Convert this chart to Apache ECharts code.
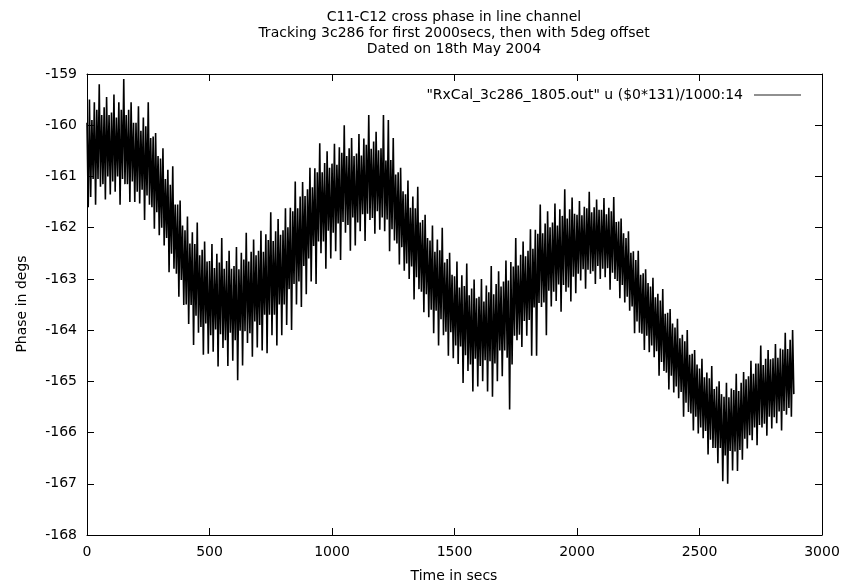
<!DOCTYPE html>
<html><head><meta charset="utf-8">
<script src="https://cdn.jsdelivr.net/npm/echarts@6/dist/echarts.min.js"></script>
<style>html,body{margin:0;padding:0;background:#fff}#c{width:846px;height:586px}</style>
</head><body><div id="c"></div>
<script>
const titleLines = ['C11-C12 cross phase in line channel', 'Tracking 3c286 for first 2000secs, then with 5deg offset', 'Dated on 18th May 2004'];
const xName = 'Time in secs';
const yName = 'Phase in degs';
const seriesName = '"RxCal_3c286_1805.out" u ($0*131)/1000:14';
const xMin = 0, xMax = 3000, xStep = 500;
const yMin = -168, yMax = -159, yStep = 1;
const sampleSpacing = 10; // seconds between upper-envelope samples
// upper swing values at t = 0,10,20,... s ; lower swing values at t = 5,15,25,... s
const upper = [
-159.95,-159.5,-159.9,-159.55,-159.7,-159.2,-159.8,-159.65,-159.45,-159.8,
-159.75,-159.4,-159.85,-159.55,-159.7,-159.1,-159.8,-159.7,-159.55,-159.95,
-159.95,-159.63,-160.11,-159.85,-160.02,-159.55,-160.25,-160.22,-160.15,-160.6,
-160.65,-160.45,-161.05,-160.87,-161.16,-160.8,-161.55,-161.55,-161.47,-161.96,
-162.05,-161.78,-162.31,-162.09,-162.32,-161.9,-162.54,-162.43,-162.27,-162.66,
-162.65,-162.32,-162.79,-162.51,-162.68,-162.2,-162.8,-162.65,-162.45,-162.8,
-162.75,-162.38,-162.81,-162.49,-162.62,-162.1,-162.66,-162.47,-162.23,-162.54,
-162.45,-162.06,-162.47,-162.13,-162.24,-161.7,-162.26,-162.07,-161.83,-162.14,
-162.05,-161.62,-161.99,-161.61,-161.68,-161.1,-161.62,-161.39,-161.11,-161.38,
-161.25,-160.83,-161.21,-160.84,-160.92,-160.35,-160.92,-160.74,-160.51,-160.83,
-160.75,-160.36,-160.77,-160.43,-160.54,-160.0,-160.6,-160.45,-160.25,-160.6,
-160.55,-160.17,-160.59,-160.26,-160.38,-159.8,-160.46,-160.32,-160.13,-160.49,
-160.45,-159.8,-160.69,-159.9,-160.68,-160.25,-160.96,-160.92,-160.83,-161.29,
-161.35,-161.08,-161.61,-161.39,-161.62,-161.2,-161.9,-161.85,-161.75,-162.2,
-162.25,-161.96,-162.47,-162.23,-162.44,-162.0,-162.68,-162.61,-162.49,-162.92,
-162.95,-162.66,-163.17,-162.93,-163.14,-162.7,-163.32,-163.19,-163.01,-163.38,
-163.35,-163.0,-163.44,-163.13,-163.26,-162.75,-163.3,-163.1,-162.85,-163.15,
-163.05,-162.64,-163.03,-162.67,-162.76,-162.2,-162.74,-162.53,-162.27,-162.56,
-162.45,-162.03,-162.41,-162.04,-162.12,-161.55,-162.11,-161.92,-161.68,-161.99,
-161.9,-161.53,-161.96,-161.64,-161.77,-161.25,-161.82,-161.64,-161.41,-161.73,
-161.75,-161.48,-161.76,-161.59,-161.62,-161.3,-161.7,-161.6,-161.45,-161.65,
-161.65,-161.42,-161.74,-161.61,-161.68,-161.4,-161.89,-161.88,-161.82,-162.11,
-162.2,-162.07,-162.49,-162.46,-162.63,-162.45,-162.92,-162.89,-162.81,-163.08,
-163.15,-162.98,-163.36,-163.29,-163.42,-163.2,-163.68,-163.66,-163.59,-163.87,
-163.95,-163.78,-164.16,-164.09,-164.22,-164.0,-164.48,-164.46,-164.39,-164.67,
-164.75,-164.56,-164.92,-164.83,-164.94,-164.7,-165.15,-165.1,-165.0,-165.25,
-165.3,-165.03,-165.31,-165.14,-165.17,-164.85,-165.19,-165.03,-164.82,-164.96,
-164.9,-164.6,-164.85,-164.65,-164.65,-164.3,-164.68,-164.56,-164.39,-164.57,
-164.55,-164.27,-164.54,-164.36,-164.38,-164.05,-164.37,-164.19,-164.0
];
const lower = [
-161.6,-161.4,-161.05,-161.55,-161.05,-161.2,-161.15,-161.45,-161.0,-161.35,
-161.1,-161.3,-161.0,-161.55,-161.05,-161.15,-161.15,-161.5,-161.1,-161.5,
-161.3,-161.53,-161.26,-161.85,-161.37,-161.55,-161.6,-162.02,-161.7,-162.15,
-162.0,-162.35,-162.2,-162.87,-162.51,-162.8,-162.9,-163.35,-163.02,-163.51,
-163.5,-163.88,-163.51,-164.29,-163.72,-164.05,-163.94,-164.48,-163.87,-164.46,
-164.1,-164.42,-163.99,-164.71,-164.08,-164.35,-164.2,-164.7,-164.05,-164.6,
-164.2,-164.98,-164.01,-164.69,-164.02,-164.25,-164.06,-164.52,-163.83,-164.34,
-163.9,-164.4,-163.7,-164.45,-163.7,-164.1,-163.7,-164.3,-163.5,-164.1,
-163.5,-163.9,-163.2,-164.0,-163.1,-163.5,-163.05,-163.55,-162.75,-163.3,
-162.6,-163.05,-162.36,-163.1,-162.27,-162.5,-162.27,-162.8,-162.06,-162.6,
-162.1,-162.46,-161.92,-162.63,-161.89,-162.1,-161.95,-162.45,-161.8,-162.35,
-161.9,-162.07,-161.74,-162.26,-161.73,-161.85,-161.81,-162.12,-161.68,-162.04,
-161.8,-162.07,-161.84,-162.46,-162.03,-162.25,-162.31,-162.72,-162.38,-162.84,
-162.7,-163.0,-162.76,-163.4,-162.97,-163.2,-163.25,-163.65,-163.3,-163.75,
-163.6,-164.06,-163.62,-164.3,-163.79,-164.1,-164.03,-164.5,-164.04,-164.55,
-164.3,-164.66,-164.32,-165.03,-164.49,-164.8,-164.67,-165.2,-164.56,-165.1,
-164.7,-165.0,-164.59,-165.2,-164.61,-165.3,-164.65,-165.0,-164.4,-164.9,
-164.4,-164.54,-165.55,-164.67,-164.11,-164.2,-164.09,-164.33,-163.82,-164.11,
-163.8,-164.5,-163.56,-164.5,-163.47,-163.55,-163.46,-164.1,-163.23,-163.54,
-163.25,-163.43,-163.11,-163.64,-163.12,-163.25,-163.17,-163.44,-162.96,-163.28,
-162.9,-163.03,-162.81,-163.19,-162.82,-162.9,-162.85,-163.1,-162.75,-163.0,
-162.8,-162.97,-162.79,-163.21,-162.88,-163.0,-163.04,-163.38,-163.12,-163.46,
-163.35,-163.62,-163.54,-164.06,-163.83,-164.05,-164.07,-164.39,-164.11,-164.43,
-164.3,-164.53,-164.41,-164.89,-164.62,-164.8,-164.83,-165.16,-164.89,-165.22,
-165.1,-165.33,-165.21,-165.69,-165.42,-165.6,-165.63,-165.96,-165.69,-166.02,
-165.9,-166.11,-165.97,-166.43,-166.14,-166.3,-166.3,-166.6,-166.3,-166.95,
-166.45,-167.0,-166.36,-166.74,-166.37,-166.75,-166.34,-166.53,-166.12,-166.31,
-166.05,-166.15,-165.9,-166.25,-165.85,-165.9,-165.83,-166.06,-165.69,-165.92,
-165.7,-165.82,-165.59,-165.96,-165.58,-165.65,-165.52,-165.69,-165.25
];

const data = [];
for (let i = 0; i < upper.length; i++) {
  data.push([i * sampleSpacing, upper[i]]);
  if (i < lower.length) data.push([i * sampleSpacing + sampleSpacing / 2, lower[i]]);
}

const FONT = "'DejaVu Sans', 'Liberation Sans', sans-serif";
const axisLine = {show: true, onZero: false, lineStyle: {color: '#000', width: 1}};
const axisTick = {show: true, inside: true, length: 7, lineStyle: {color: '#000', width: 1}};

const chart = echarts.init(document.getElementById('c'), null, {renderer: 'canvas'});
chart.setOption({
  animation: false,
  backgroundColor: '#fff',
  grid: {left: 87, right: 24, top: 74, bottom: 51, containLabel: false},
  legend: {
    show: true, selectedMode: false, right: 40, top: 83, align: 'right',
    icon: 'rect', itemWidth: 47, itemHeight: 1,
    itemStyle: {color: '#222'},
    textStyle: {color: '#000', fontSize: 14, fontFamily: FONT, padding: [0, 6, 0, 0]},
    data: [seriesName]
  },
  xAxis: [
    {type: 'value', min: xMin, max: xMax, interval: xStep, position: 'bottom',
     axisLine, axisTick, splitLine: {show: false},
     axisLabel: {color: '#000', fontSize: 14, fontFamily: FONT, margin: 10, formatter: v => String(v)}},
    {type: 'value', min: xMin, max: xMax, interval: xStep, position: 'top',
     axisLine, axisTick, splitLine: {show: false}, axisLabel: {show: false}}
  ],
  yAxis: [
    {type: 'value', min: yMin, max: yMax, interval: yStep, position: 'left',
     axisLine, axisTick, splitLine: {show: false},
     axisLabel: {color: '#000', fontSize: 14, fontFamily: FONT, margin: 10, formatter: v => String(v)}},
    {type: 'value', min: yMin, max: yMax, interval: yStep, position: 'right',
     axisLine, axisTick, splitLine: {show: false}, axisLabel: {show: false}}
  ],
  graphic: [
    {type: 'text', silent: true, style: {x: 454, y: 9, text: titleLines.join('\n'), font: '14px ' + FONT,
      fill: '#000', textAlign: 'center', textVerticalAlign: 'top', lineHeight: 16}},
    {type: 'text', silent: true, style: {x: 454, y: 576, text: xName, font: '14px ' + FONT,
      fill: '#000', textAlign: 'center', textVerticalAlign: 'middle'}},
    {type: 'text', silent: true, rotation: Math.PI / 2, x: 22, y: 304,
      style: {x: 0, y: 0, text: yName, font: '14px ' + FONT,
      fill: '#000', textAlign: 'center', textVerticalAlign: 'middle'}}
  ],
  series: [{
    name: seriesName, type: 'line', xAxisIndex: 0, yAxisIndex: 0,
    data: data, showSymbol: false, symbol: 'none', silent: true,
    color: '#000', lineStyle: {color: '#000', width: 1.6, join: 'miter', miterLimit: 2}
  }]
});
</script>
</body></html>
